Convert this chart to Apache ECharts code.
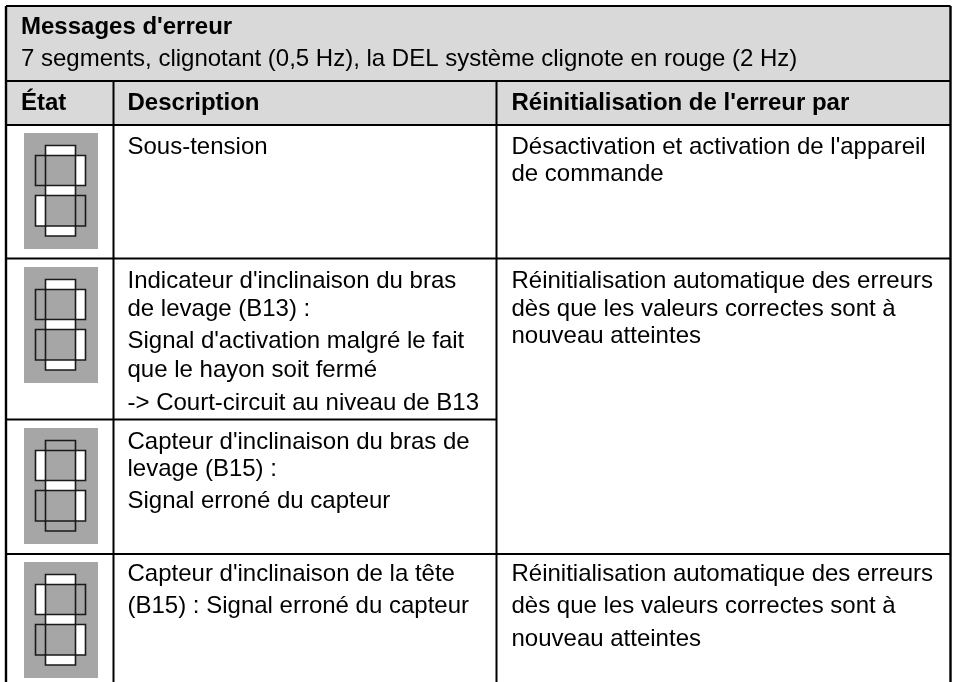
<html lang="fr">
<head>
    <meta http-equiv="Content-Type" content="text/html; charset=UTF-8">
    <script type="text/javascript" src="https://cdn.jsdelivr.net/npm/echarts@6/dist/echarts.min.js"></script>
    <style>html,body{margin:0;padding:0;background:#fff}</style>
</head>
<body>
<div id="main" style="height:682px;width:954px;"></div>
<script type="text/javascript">
    // table content
    var tableTitle = "Messages d'erreur";
    var tableSubtitle = "7 segments, clignotant (0,5 Hz), la DEL système clignote en rouge (2 Hz)";
    var columnHeads = ['État', 'Description', "Réinitialisation de l'erreur par"];

    // segments lit (white) for each row, in order: top, upper left, upper right, middle, lower left, lower right, bottom
    var segmentNames = ['top', 'upperLeft', 'upperRight', 'middle', 'lowerLeft', 'lowerRight', 'bottom'];
    var displayStates = [
        [1, 0, 1, 1, 1, 0, 1],
        [1, 0, 1, 1, 0, 1, 1],
        [0, 1, 1, 1, 0, 1, 0],
        [1, 1, 0, 1, 0, 1, 1]
    ];
    var descriptions = [
        ['Sous-tension'],
        ["Indicateur d'inclinaison du bras", 'de levage (B13) :', "Signal d'activation malgré le fait", 'que le hayon soit fermé', '-> Court-circuit au niveau de B13'],
        ["Capteur d'inclinaison du bras de", 'levage (B15) :', 'Signal erroné du capteur'],
        ["Capteur d'inclinaison de la tête", '(B15) : Signal erroné du capteur']
    ];
    var resets = [
        ["Désactivation et activation de l'appareil", 'de commande'],
        ['Réinitialisation automatique des erreurs', 'dès que les valeurs correctes sont à', 'nouveau atteintes'],
        [],
        ['Réinitialisation automatique des erreurs', 'dès que les valeurs correctes sont à', 'nouveau atteintes']
    ];

    // layout, in picture pixels
    var tableLeft = 6, tableRight = 950.5, tableTop = 6, tableBottom = 682;
    var titleBottom = 81, headBottom = 125;
    var colLines = [113.5, 496.5];
    var rowLines = [258.5, 419.5, 554];
    var iconTops = [133, 267, 428, 562];
    var descLineY = [
        [153.5],
        [288, 316, 348, 377, 410],
        [449, 476, 508],
        [581, 613]
    ];
    var resetLineY = [
        [153.5, 180.5],
        [288, 316, 343],
        [],
        [581, 613, 646]
    ];
    var segmentBoxes = {
        top: [21.5, 12.5, 30, 10],
        upperLeft: [11.5, 22.5, 10, 30],
        upperRight: [51.5, 22.5, 10, 30],
        middle: [21.5, 52.5, 30, 10],
        lowerLeft: [11.5, 62.5, 10, 30.5],
        lowerRight: [51.5, 62.5, 10, 30.5],
        bottom: [21.5, 93, 30, 10]
    };

    var lineColor = '#000', bandColor = '#d9d9d9', iconColor = '#a6a6a6', fontName = '"Liberation Sans", Arial, sans-serif';
    var baselineShift = 6.5;

    var myChart = echarts.init(document.getElementById('main'));

    function rectOf(api, x0, y0, x1, y1, style) {
        var a = api.coord([x0, y0]), b = api.coord([x1, y1]);
        return { type: 'rect', shape: { x: a[0], y: a[1], width: b[0] - a[0], height: b[1] - a[1] }, style: style };
    }
    function lineOf(api, x0, y0, x1, y1, w) {
        var a = api.coord([x0, y0]), b = api.coord([x1, y1]);
        return { type: 'line', shape: { x1: a[0], y1: a[1], x2: b[0], y2: b[1] }, style: { stroke: lineColor, lineWidth: w } };
    }
    function textOf(api, x, baseline, str, bold) {
        var p = api.coord([x, baseline - baselineShift]);
        return { type: 'text', x: p[0], y: p[1], style: { text: str, fill: '#000', font: (bold ? 'bold ' : '') + '24px ' + fontName, textAlign: 'left', textVerticalAlign: 'middle' } };
    }

    // frame, header band and heads, everything goes through the pixel axes
    function renderFrame(params, api) {
        var c = [];
        c.push(rectOf(api, tableLeft, tableTop, tableRight, headBottom, { fill: bandColor }));
        c.push(lineOf(api, tableLeft, tableTop, tableRight, tableTop, 2));
        c.push(lineOf(api, tableLeft, titleBottom, tableRight, titleBottom, 2));
        c.push(lineOf(api, tableLeft, headBottom, tableRight, headBottom, 2));
        c.push(lineOf(api, tableLeft, tableTop, tableLeft, tableBottom, 2.4));
        c.push(lineOf(api, tableRight, tableTop, tableRight, tableBottom, 2.4));
        colLines.forEach(function (x) { c.push(lineOf(api, x, titleBottom, x, tableBottom, 2)); });
        c.push(lineOf(api, tableLeft, rowLines[0], tableRight, rowLines[0], 2));
        c.push(lineOf(api, tableLeft, rowLines[1], colLines[1], rowLines[1], 2));
        c.push(lineOf(api, tableLeft, rowLines[2], tableRight, rowLines[2], 2));
        c.push(textOf(api, 21, 34, tableTitle, true));
        c.push(textOf(api, 21, 66, tableSubtitle, false));
        c.push(textOf(api, 21, 110, columnHeads[0], true));
        c.push(textOf(api, 127.5, 110, columnHeads[1], true));
        c.push(textOf(api, 511.5, 110, columnHeads[2], true));
        return { type: 'group', children: c };
    }

    function renderRow(params, api) {
        var row = params.dataIndex, c = [];
        var x0 = 24, y0 = iconTops[row];
        c.push(rectOf(api, x0, y0, x0 + 74, y0 + 116, { fill: iconColor }));
        segmentNames.forEach(function (name, i) {
            var b = segmentBoxes[name];
            c.push(rectOf(api, x0 + b[0], y0 + b[1], x0 + b[0] + b[2], y0 + b[1] + b[3], {
                fill: displayStates[row][i] ? '#fff' : iconColor
            }));
        });
        // segment outlines sit on top of the fills
        segmentNames.forEach(function (name) {
            var b = segmentBoxes[name];
            c.push(rectOf(api, x0 + b[0], y0 + b[1], x0 + b[0] + b[2], y0 + b[1] + b[3], {
                fill: 'none', stroke: '#1a1a1a', lineWidth: 1.6
            }));
        });
        descriptions[row].forEach(function (s, i) { c.push(textOf(api, 127.5, descLineY[row][i], s, false)); });
        resets[row].forEach(function (s, i) { c.push(textOf(api, 511.5, resetLineY[row][i], s, false)); });
        return { type: 'group', children: c };
    }

    var option = {
        animation: false,
        grid: { left: 0, right: 0, top: 0, bottom: 0 },
        xAxis: { type: 'value', min: 0, max: 954, show: false },
        yAxis: { type: 'value', min: 0, max: 682, inverse: true, show: false },
        series: [
            { type: 'custom', silent: true, clip: false, renderItem: renderFrame, data: [[0, 0]], z: 1 },
            { type: 'custom', silent: true, clip: false, renderItem: renderRow, data: displayStates.map(function (s, i) { return [i, i]; }), z: 2 }
        ]
    };

    myChart.setOption(option);
</script>
</body>
</html>
